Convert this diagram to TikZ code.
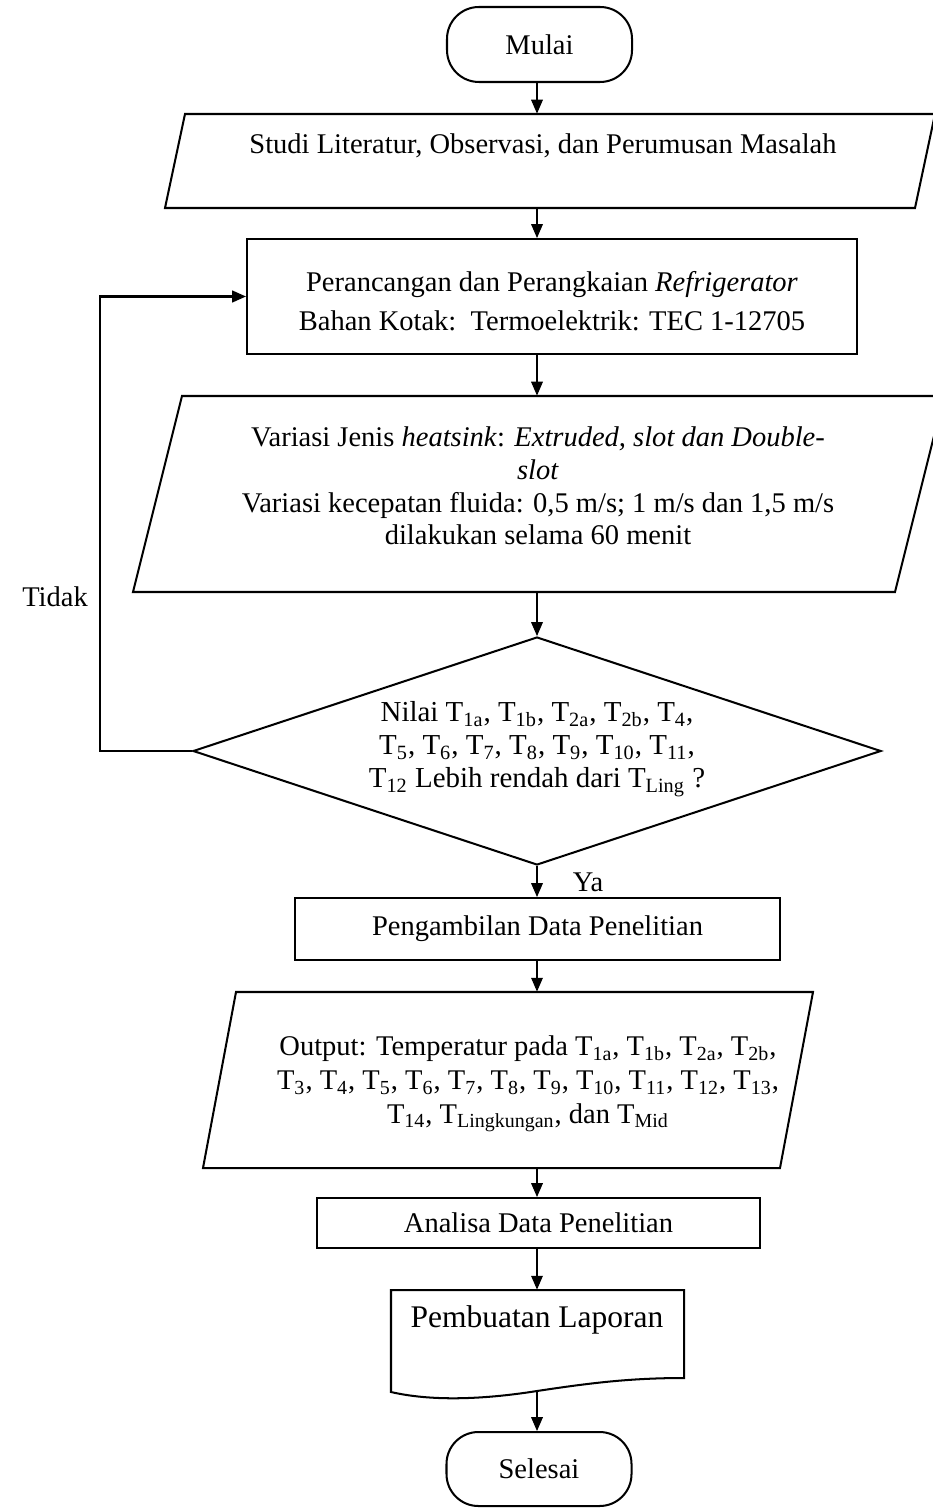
\documentclass[tikz,border=0pt]{standalone}
\usepackage{fontspec}
\setmainfont{Liberation Serif}
\usetikzlibrary{arrows.meta,positioning,shapes.geometric,calc}
\newcommand{\pxu}{0.47pt}
\newcommand{\Tsub}[1]{T\textsubscript{#1}}

\tikzset{
  base/.style={font=\fontsize{13.4}{15.3}\selectfont, align=center, inner sep=0pt},
  terminal/.style={base, draw, line width=0.95pt, rounded corners=15pt},
  process/.style={base, draw, line width=0.95pt},
  io/.style={inner sep=0pt},
  decision/.style={diamond, draw, line width=0.95pt, inner sep=0pt},
  shapeline/.style={line width=0.95pt, line join=miter},
  arr/.style={-{Triangle[length=6.5pt,width=5.5pt]}, line width=0.5pt},
  loopline/.style={-{Triangle[length=6.5pt,width=5.5pt]}, line width=0.95pt},
}

\begin{document}
\begin{tikzpicture}[x=0.47pt, y=-0.47pt]
    \useasboundingbox (0,0) rectangle (933,1508);
    \coordinate (spine) at (537,0);

    % Start
    \node[terminal, minimum width=185*\pxu, minimum height=75*\pxu] (mulai) at (539.5,44.5) {Mulai};

    % Literature study
    \draw[shapeline] (165,208) -- (185,114) -- (935,114) -- (915,208) -- cycle;
    \node[io, minimum width=750*\pxu, minimum height=94*\pxu] (studi) at (550,161) {};
    \node[base] (studitext) at (543,146) {Studi Literatur, Observasi, dan Perumusan Masalah};

    % Design
    \node[process, minimum width=610*\pxu, minimum height=115*\pxu] (rancang) at (552,296.5) {};
    \node[base] (rancangtext) at (552,301)
        {Perancangan dan Perangkaian \textit{Refrigerator}\\[3pt]
         Bahan Kotak:\ \ Termoelektrik: TEC 1-12705};

    % Variations
    \draw[shapeline] (133,592) -- (182,396) -- (944,396) -- (895,592) -- cycle;
    \node[io, minimum width=762*\pxu, minimum height=196*\pxu] (variasi) at (538.5,494) {};
    \node[base] (variasitext) at (538,486)
        {Variasi Jenis \textit{heatsink}: \textit{Extruded, slot dan Double-}\\
         \textit{slot}\\
         Variasi kecepatan fluida: 0,5 m/s; 1 m/s dan 1,5 m/s\\
         dilakukan selama 60 menit};

    % Decision
    \node[decision, minimum width=688*\pxu, minimum height=228*\pxu] (nilai) at (537,751) {};
    \node[base, font=\fontsize{13.6}{15.5}\selectfont] (nilaitext) at (537,749)
        {Nilai \Tsub{1a}, \Tsub{1b}, \Tsub{2a}, \Tsub{2b}, \Tsub{4},\\
         \Tsub{5}, \Tsub{6}, \Tsub{7}, \Tsub{8}, \Tsub{9}, \Tsub{10}, \Tsub{11},\\
         \Tsub{12} Lebih rendah dari \Tsub{Ling} ?};
    \node[base] (ya) at (588,882) {Ya};
    \node[base] (tidak) at (55,597) {Tidak};

    % Data collection
    \node[process, minimum width=485*\pxu, minimum height=62*\pxu] (ambil) at (537.5,929)
        {Pengambilan Data Penelitian};

    % Output
    \draw[shapeline] (203,1168) -- (236,992) -- (813,992) -- (780,1168) -- cycle;
    \node[io, minimum width=577*\pxu, minimum height=176*\pxu] (output) at (508,1080) {};
    \node[base, font=\fontsize{13.4}{15.8}\selectfont] (outputtext) at (528,1084)
        {Output: Temperatur pada \Tsub{1a}, \Tsub{1b}, \Tsub{2a}, \Tsub{2b},\\
         \Tsub{3}, \Tsub{4}, \Tsub{5}, \Tsub{6}, \Tsub{7}, \Tsub{8}, \Tsub{9}, \Tsub{10}, \Tsub{11}, \Tsub{12}, \Tsub{13},\\
         \Tsub{14}, \Tsub{Lingkungan}, dan \Tsub{Mid}};

    % Analysis
    \node[process, minimum width=443*\pxu, minimum height=50*\pxu] (analisa) at (538.5,1223)
        {Analisa Data Penelitian};

    % Report (document shape)
    \draw[shapeline] (391,1392) -- (391,1290) -- (684,1290) -- (684,1378)
        .. controls (630,1378) and (590,1383) .. (537,1391)
        .. controls (480,1400) and (430,1401) .. (391,1392) -- cycle;
    \node[io, minimum width=293*\pxu, minimum height=102*\pxu] (laporan) at (537.5,1341) {};
    \node[base, font=\fontsize{14.8}{17}\selectfont] (laporantext) at (537,1320) {Pembuatan Laporan};
    \coordinate (lapwave) at (537,1392);

    % End
    \node[terminal, minimum width=185*\pxu, minimum height=74*\pxu] (selesai) at (539,1469) {Selesai};

    % Connectors
    \draw[arr] (mulai.south -| spine) -- (studi.north -| spine);
    \draw[arr] (studi.south -| spine) -- (rancang.north -| spine);
    \draw[arr] (rancang.south -| spine) -- (variasi.north -| spine);
    \draw[arr] (variasi.south -| spine) -- (nilai.north);
    \draw[arr] (nilai.south) -- (ambil.north -| nilai.south);
    \draw[arr] (ambil.south -| spine) -- (output.north -| spine);
    \draw[arr] (output.south -| spine) -- (analisa.north -| spine);
    \draw[arr] (analisa.south -| spine) -- (laporan.north -| spine);
    \draw[arr] (lapwave) -- (selesai.north -| lapwave);
    \draw[loopline] (nilai.west) -- ++(-92,0) |- (rancang.west);
\end{tikzpicture}
\end{document}
